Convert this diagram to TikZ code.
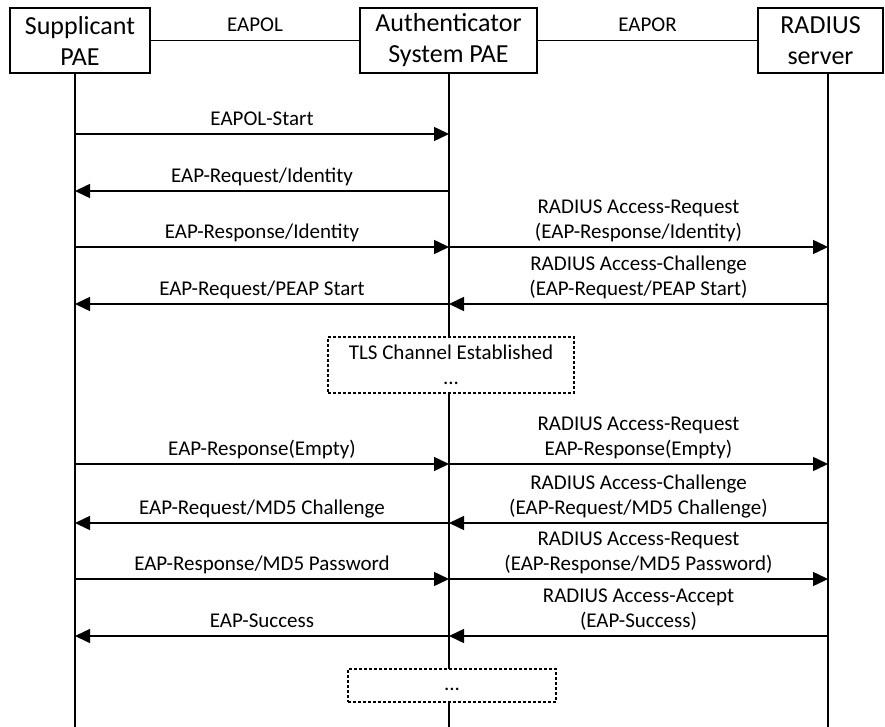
\documentclass[tikz,border=0pt]{standalone}
\usepackage{fontspec}
\setmainfont{Carlito}
\usepackage{tikz}
\usetikzlibrary{arrows.meta,calc}
\tikzset{
  party/.style={draw,line width=1.5pt,fill=white,align=center,inner sep=0pt,font=\fontsize{26}{31}\selectfont},
  life/.style={line width=1.5pt},
  msg/.style={line width=1.5pt,-{Triangle[length=15pt,width=14pt]}},
  lbl/.style={midway,above,inner sep=0pt,text depth=8pt,align=center,font=\fontsize{21}{25}\selectfont},
  phase/.style={draw,line width=1.5pt,dash pattern=on 3pt off 2pt,fill=white,align=center,inner sep=0pt,font=\fontsize{21}{25}\selectfont},
}
\begin{document}
\begin{tikzpicture}[x=1pt,y=-1pt]
  \useasboundingbox (0,0) rectangle (885,727);
  % parties
  \node[party,minimum width=140pt,minimum height=65pt] (sup) at (80,40.5) {Supplicant\\PAE};
  \node[party,minimum width=177pt,minimum height=65pt] (auth) at (448.5,40.5) {Authenticator\\System PAE};
  \node[party,minimum width=125pt,minimum height=65pt] (rad) at (820.5,40.5) {RADIUS\\server};
  \draw[life] (sup.east) -- node[lbl] {EAPOL} (auth.west);
  \draw[life] (auth.east) -- node[lbl] {EAPOR} (rad.west);
  % lifelines
  \coordinate (sEnd) at (75,727);
  \coordinate (aEnd) at (449,727);
  \coordinate (rEnd) at (828,727);
  \foreach \p/\e in {sup/sEnd,auth/aEnd,rad/rEnd}
    \draw[life] (\e |- \p.south) -- (\e);
  % phases
  \node[phase,minimum width=246pt,minimum height=56pt] (tls) at (451,365) {TLS Channel Established\\...};
  \node[phase,minimum width=208pt,minimum height=33pt,text height=15pt,text depth=5pt] (rest) at (452,685.5) {...};
  % supplicant <-> authenticator
  \foreach \y/\txt in {134/{EAPOL-Start},247/{EAP-Response/Identity},464/{EAP-Response(Empty)},579/{EAP-Response/MD5 Password}}
    \draw[msg] (sEnd |- 0,\y) -- node[lbl] {\txt} (aEnd |- 0,\y);
  \foreach \y/\txt in {191/{EAP-Request/Identity},304/{EAP-Request/PEAP Start},523/{EAP-Request/MD5 Challenge},636/{EAP-Success}}
    \draw[msg] (aEnd |- 0,\y) -- node[lbl] {\txt} (sEnd |- 0,\y);
  % authenticator <-> radius
  \foreach \y/\txt in {247/{RADIUS Access-Request\\(EAP-Response/Identity)},464/{RADIUS Access-Request\\EAP-Response(Empty)},579/{RADIUS Access-Request\\(EAP-Response/MD5 Password)}}
    \draw[msg] (aEnd |- 0,\y) -- node[lbl] {\txt} (rEnd |- 0,\y);
  \foreach \y/\txt in {304/{RADIUS Access-Challenge\\(EAP-Request/PEAP Start)},523/{RADIUS Access-Challenge\\(EAP-Request/MD5 Challenge)},636/{RADIUS Access-Accept\\(EAP-Success)}}
    \draw[msg] (rEnd |- 0,\y) -- node[lbl] {\txt} (aEnd |- 0,\y);
\end{tikzpicture}
\end{document}
